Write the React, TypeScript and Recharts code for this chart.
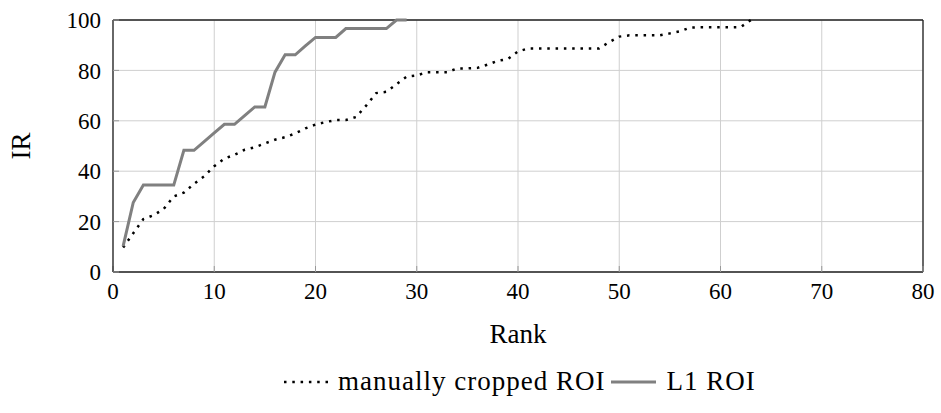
import React from "react"
import { LineChart, Line, XAxis, YAxis, CartesianGrid, ReferenceLine } from "recharts"

const ranks = [
  1, 2, 3, 4, 5, 6, 7, 8, 9, 10, 11, 12, 13, 14, 15, 16, 17, 18, 19, 20, 21,
  22, 23, 24, 25, 26, 27, 28, 29, 30, 31, 32, 33, 34, 35, 36, 37, 38, 39, 40,
  41, 42, 43, 44, 45, 46, 47, 48, 49, 50, 51, 52, 53, 54, 55, 56, 57, 58, 59,
  60, 61, 62, 63,
]

// manually cropped ROI (dotted)
const manualRoi = [
  9.7, 15.4, 21, 22.5, 25, 30, 31.5, 35, 38, 42, 45, 46.5, 48.5, 49.5, 51,
  52.5, 53.5, 55, 57, 58.5, 59.5, 60.3, 60.3, 61.5, 66, 71, 71.5, 74.5, 77.5,
  78, 79.3, 79.3, 79.3, 80.8, 80.8, 81, 82.3, 83.8, 84.5, 87.5, 88.7, 88.7,
  88.7, 88.7, 88.7, 88.7, 88.7, 88.7, 91.2, 93.4, 93.9, 93.9, 93.9, 93.9, 94.7,
  95.5, 97, 97.1, 97.1, 97.1, 97.1, 97.2, 100,
]

// L1 ROI (solid grey)
const l1Roi = [
  10.3, 27.6, 34.5, 34.5, 34.5, 34.5, 48.3, 48.3, 51.7, 55.2, 58.6, 58.6, 62.1,
  65.5, 65.5, 79.3, 86.2, 86.2, 89.7, 93.1, 93.1, 93.1, 96.6, 96.6, 96.6, 96.6,
  96.6, 100, 100,
]

const xTicks = [0, 10, 20, 30, 40, 50, 60, 70, 80]
const yTicks = [0, 20, 40, 60, 80, 100]

const data = ranks.map((rank, i) => ({
  rank,
  manual: manualRoi[i],
  l1: i < l1Roi.length ? l1Roi[i] : undefined,
}))

const serif = "'Liberation Serif', 'DejaVu Serif', 'Times New Roman', serif"
const tickFont = { fontFamily: serif, fontSize: 23, fill: "#000" }
const labelFont = { fontFamily: serif, fontSize: 27, fill: "#000" }

const App = () => {
  return (
    <div style={{ position: "absolute", left: 0, top: 0, width: 941, height: 413, background: "#fff", fontFamily: serif }}>
      <LineChart
        width={941}
        height={413}
        data={data}
        margin={{ top: 20, right: 18, bottom: 66, left: 53 }}
        style={{ fontFamily: serif }}
      >
        <CartesianGrid stroke="#cfcfcf" strokeWidth={1} />
        <XAxis
          dataKey="rank"
          type="number"
          domain={[0, 80]}
          ticks={xTicks}
          interval={0}
          height={75}
          axisLine={{ stroke: "#222", strokeWidth: 1.3 }}
          tickLine={{ stroke: "#999" }}
          tickSize={-6}
          tickMargin={17}
          tick={tickFont}
          label={{ value: "Rank", position: "insideBottom", offset: 4, style: labelFont }}
        />
        <YAxis
          type="number"
          domain={[0, 100]}
          ticks={yTicks}
          interval={0}
          width={60}
          axisLine={{ stroke: "#222", strokeWidth: 1.3 }}
          tickLine={{ stroke: "#999" }}
          tickSize={-6}
          tickMargin={18}
          tick={tickFont}
          label={{
            value: "IR",
            angle: -90,
            position: "insideLeft",
            offset: -33,
            style: { ...labelFont, textAnchor: "middle" },
          }}
        />
        <ReferenceLine y={100} stroke="#222" strokeWidth={1.3} ifOverflow="visible" />
        <ReferenceLine x={80} stroke="#222" strokeWidth={1.3} ifOverflow="visible" />
        <Line
          type="linear"
          dataKey="manual"
          stroke="#000"
          strokeWidth={2.5}
          strokeDasharray="2.5 5.8"
          dot={false}
          activeDot={false}
          isAnimationActive={false}
        />
        <Line
          type="linear"
          dataKey="l1"
          stroke="#808080"
          strokeWidth={3}
          dot={false}
          activeDot={false}
          isAnimationActive={false}
        />
      </LineChart>
      <div
        style={{
          position: "absolute",
          left: 283,
          top: 366,
          display: "flex",
          alignItems: "center",
          fontFamily: serif,
          fontSize: 27,
          letterSpacing: 1,
          color: "#000",
          whiteSpace: "nowrap",
        }}
      >
        <svg width={50} height={10}>
          <line x1={1} y1={5} x2={49} y2={5} stroke="#000" strokeWidth={2.5} strokeDasharray="2.5 5.8" />
        </svg>
        <span style={{ marginLeft: 5 }}>manually cropped ROI</span>
        <svg width={46} height={10} style={{ marginLeft: 6 }}>
          <line x1={0} y1={5} x2={45} y2={5} stroke="#808080" strokeWidth={3} />
        </svg>
        <span style={{ marginLeft: 9 }}>L1 ROI</span>
      </div>
    </div>
  )
}

export default App
